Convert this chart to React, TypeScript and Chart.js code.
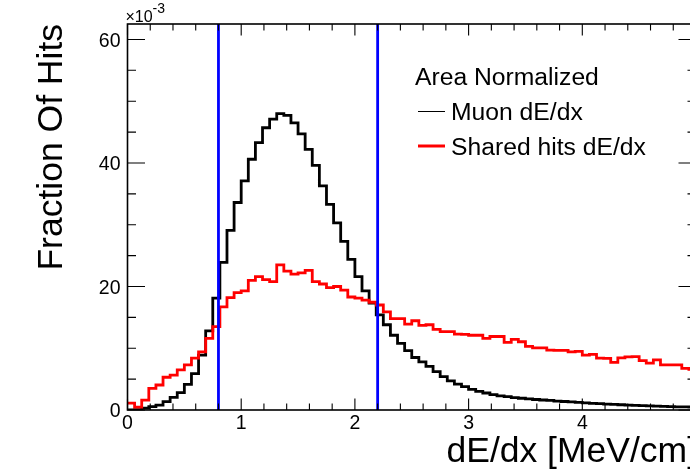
import { useEffect, useRef } from 'react';
import { Chart, registerables } from 'chart.js';

Chart.register(...registerables);

// ---- histogram definition ----
const X_MIN = 0;
const X_MAX = 5;
const N_BINS = 80;
const Y_MAX = 62.5; // in units of 1e-3
const Y_EXPONENT = '-3';

// bin contents (x 1e-3), 80 bins from 0 to 5 MeV/cm
const MUON_DEDX = [
  0, 0.05, 0.3, 0.55, 0.8, 1.35, 2.05, 2.8, 4.15, 5.9,
  8.9, 12.8, 18.1, 23.9, 29.1, 33.6, 37.1, 40.6, 43.3, 45.7,
  47.1, 48.0, 47.7, 46.5, 44.7, 42.2, 39.6, 36.3, 33.3, 30.3,
  27.3, 24.4, 21.6, 19.3, 17.3, 15.4, 13.8, 12.1, 10.8, 9.6,
  8.5, 7.8, 7.05, 6.2, 5.4, 4.7, 4.2, 3.8, 3.35, 3.0,
  2.75, 2.5, 2.3, 2.15, 2.0, 1.9, 1.8, 1.7, 1.62, 1.55,
  1.45, 1.38, 1.3, 1.22, 1.15, 1.08, 1.02, 0.96, 0.9, 0.85,
  0.8, 0.75, 0.7, 0.66, 0.62, 0.58, 0.55, 0.52, 0.49, 0.46,
];

const SHARED_DEDX = [
  1.1, 0.45, 1.6, 3.5, 4.05, 5.3, 5.65, 6.5, 7.3, 8.4,
  9.4, 11.6, 13.5, 16.7, 18.2, 19.0, 19.3, 21.0, 21.6, 21.1,
  20.8, 23.5, 22.5, 22.0, 22.2, 22.6, 20.8, 20.4, 19.8, 20.0,
  19.4, 18.3, 18.1, 17.8, 17.45, 17.0, 15.9, 14.8, 14.8, 13.9,
  14.45, 13.7, 13.8, 13.05, 12.7, 12.7, 12.3, 12.25, 12.1, 12.1,
  11.6, 11.9, 11.9, 10.95, 11.45, 11.05, 10.3, 10.05, 10.05, 9.7,
  9.65, 9.65, 9.4, 9.5, 8.9, 9.0, 8.4, 8.35, 7.7, 8.45,
  8.6, 8.65, 8.0, 7.6, 8.1, 7.3, 7.3, 7.3, 6.75, 6.6,
];

const CUTS = [0.8, 2.2];

const LEGEND_HEADER = 'Area Normalized';
const MUON_LABEL = 'Muon dE/dx';
const SHARED_LABEL = 'Shared hits dE/dx';
const X_TITLE = 'dE/dx [MeV/cm]';
const Y_TITLE = 'Fraction Of Hits';

const FONT = '"Liberation Sans", Arial, Helvetica, sans-serif';

function histPoints(values: number[]) {
  const w = (X_MAX - X_MIN) / N_BINS;
  const pts = values.map((v, i) => ({ x: X_MIN + i * w, y: v }));
  pts.push({ x: X_MAX, y: values[values.length - 1] });
  return pts;
}

const rootPlugin = {
  id: 'rootStyle',
  afterDatasetsDraw(chart: any) {
    const { ctx, chartArea: a, scales } = chart;
    const x = scales.x;
    const y = scales.y;
    ctx.save();

    // frame
    ctx.strokeStyle = '#000';
    ctx.lineWidth = 1.6;
    ctx.strokeRect(a.left, a.top, a.right - a.left, a.bottom - a.top);

    // ticks
    ctx.lineWidth = 1.1;
    ctx.beginPath();
    const xt = x.ticks.map((t: any) => t.value);
    const xStep = xt[1] - xt[0];
    const xMinor = xStep / 5;
    const nx = Math.round((x.max - x.min) / xMinor);
    for (let i = 0; i <= nx; i++) {
      const v = x.min + i * xMinor;
      const major = i % 5 === 0;
      const len = major ? 11.5 : 6.5;
      const px = x.getPixelForValue(v);
      ctx.moveTo(px, a.bottom);
      ctx.lineTo(px, a.bottom - len);
      ctx.moveTo(px, a.top);
      ctx.lineTo(px, a.top + len);
    }
    const yt = y.ticks.map((t: any) => t.value);
    const yStep = yt[1] - yt[0];
    const yMinor = yStep / 4;
    const ny = Math.floor((y.max - y.min) / yMinor + 1e-6);
    for (let i = 0; i <= ny; i++) {
      const v = y.min + i * yMinor;
      const major = i % 4 === 0;
      const len = major ? 17.5 : 8.5;
      const py = y.getPixelForValue(v);
      ctx.moveTo(a.left, py);
      ctx.lineTo(a.left + len, py);
      ctx.moveTo(a.right, py);
      ctx.lineTo(a.right - len, py);
    }
    ctx.stroke();

    // tick labels
    ctx.fillStyle = '#000';
    ctx.font = `19.5px ${FONT}`;
    ctx.textBaseline = 'alphabetic';
    ctx.textAlign = 'center';
    x.ticks.forEach((t: any) => {
      ctx.fillText(String(t.value), x.getPixelForValue(t.value), a.bottom + 18.5);
    });
    ctx.textAlign = 'right';
    y.ticks.forEach((t: any) => {
      ctx.fillText(String(t.value), a.left - 7, y.getPixelForValue(t.value) + 7.3);
    });

    // exponent
    ctx.textAlign = 'left';
    ctx.font = `16px ${FONT}`;
    ctx.fillText('×10', a.left - 2, a.top - 2);
    ctx.font = `14px ${FONT}`;
    ctx.fillText(Y_EXPONENT, a.left + 25, a.top - 11);

    // axis titles
    ctx.font = `35.5px ${FONT}`;
    ctx.textAlign = 'right';
    ctx.fillText(X_TITLE, a.right + 1, a.bottom + 52);
    ctx.save();
    ctx.translate(62, a.top);
    ctx.rotate(-Math.PI / 2);
    ctx.textAlign = 'right';
    ctx.fillText(Y_TITLE, 0, 0);
    ctx.restore();

    // legend
    const ds = chart.data.datasets;
    ctx.font = `24.7px ${FONT}`;
    ctx.textAlign = 'left';
    ctx.fillText(LEGEND_HEADER, 415, 85);
    const entries = [ds[1], ds[0]];
    entries.forEach((d: any, i: number) => {
      const yy = i === 0 ? 111.5 : 146;
      ctx.strokeStyle = d.borderColor;
      ctx.lineWidth = d.legendWidth;
      ctx.beginPath();
      ctx.moveTo(418, yy);
      ctx.lineTo(445, yy);
      ctx.stroke();
      ctx.fillText(d.label, 451, 120 + i * 35);
    });

    ctx.restore();
  },
};

export default function App() {
  const ref = useRef<HTMLCanvasElement>(null);

  useEffect(() => {
    const canvas = ref.current!;
    const cutSets = CUTS.map((c, i) => ({
      label: `cut${i}`,
      data: [
        { x: c, y: 0 },
        { x: c, y: Y_MAX },
      ],
      borderColor: '#0000ff',
      borderWidth: 2.8,
      pointRadius: 0,
      order: 0,
    }));
    const chart = new Chart(canvas, {
      type: 'line',
      data: {
        datasets: [
          {
            label: SHARED_LABEL,
            data: histPoints(SHARED_DEDX),
            borderColor: '#ff0000',
            borderWidth: 2.8,
            legendWidth: 3,
            stepped: true,
            pointRadius: 0,
            borderJoinStyle: 'miter',
            order: 1,
          } as any,
          {
            label: MUON_LABEL,
            data: histPoints(MUON_DEDX),
            borderColor: '#000000',
            borderWidth: 2.8,
            legendWidth: 1,
            stepped: true,
            pointRadius: 0,
            borderJoinStyle: 'miter',
            order: 2,
          } as any,
          ...cutSets,
        ],
      },
      options: {
        animation: false,
        responsive: false,
        devicePixelRatio: 1,
        events: [],
        layout: { padding: { top: 24, right: 24, left: 0, bottom: 0 } },
        plugins: {
          legend: { display: false },
          tooltip: { enabled: false },
        },
        scales: {
          x: {
            type: 'linear',
            min: X_MIN,
            max: X_MAX,
            ticks: { display: false, stepSize: 1, includeBounds: false },
            grid: { display: false, drawTicks: false },
            border: { display: false },
            afterFit: (s: any) => {
              s.height = 63;
            },
          },
          y: {
            type: 'linear',
            min: 0,
            max: Y_MAX,
            ticks: { display: false, stepSize: 20, includeBounds: false },
            grid: { display: false, drawTicks: false },
            border: { display: false },
            afterFit: (s: any) => {
              s.width = 127.5;
            },
          },
        },
      },
      plugins: [rootPlugin],
    });
    return () => chart.destroy();
  }, []);

  return (
    <div
      style={{
        position: 'fixed',
        left: 0,
        top: 0,
        width: 690,
        height: 473,
        overflow: 'hidden',
        background: '#fff',
      }}
    >
      <canvas ref={ref} width={720} height={473} style={{ display: 'block', width: 720, height: 473 }} />
    </div>
  );
}
